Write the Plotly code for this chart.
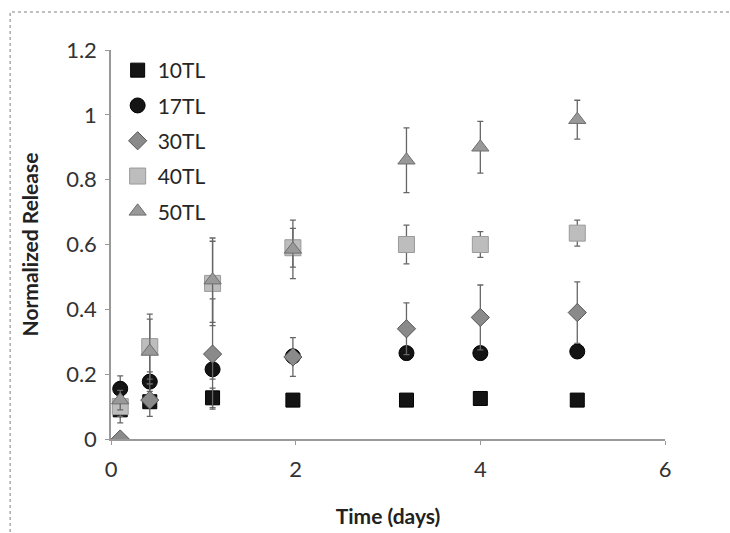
import plotly.graph_objects as go

time_days = [0.1, 0.42, 1.1, 1.97, 3.2, 4.0, 5.05]

tl10 = [0.09, 0.115, 0.127, 0.12, 0.12, 0.125, 0.12]
tl10_err = [0.04, 0.02, 0.03, 0.01, 0.01, 0.01, 0.01]
tl17 = [0.155, 0.177, 0.215, 0.255, 0.265, 0.265, 0.27]
tl17_err = [0.04, 0.03, 0.03, 0.02, 0.02, 0.02, 0.02]
tl30 = [0.0, 0.12, 0.262, 0.253, 0.34, 0.375, 0.39]
tl30_err = [0.01, 0.05, 0.17, 0.06, 0.08, 0.1, 0.095]
tl40 = [0.1, 0.285, 0.48, 0.59, 0.6, 0.6, 0.635]
tl40_err = [0.03, 0.1, 0.13, 0.06, 0.06, 0.04, 0.04]
tl50 = [0.12, 0.27, 0.49, 0.585, 0.86, 0.9, 0.985]
tl50_err = [0.03, 0.1, 0.13, 0.09, 0.1, 0.08, 0.06]

series = [
    ("10TL", tl10, tl10_err, "square", "#141414", "#000000", 14),
    ("17TL", tl17, tl17_err, "circle", "#141414", "#000000", 15),
    ("30TL", tl30, tl30_err, "diamond", "#8a8a8a", "#555555", 14),
    ("40TL", tl40, tl40_err, "square", "#bdbdbd", "#9a9a9a", 16),
    ("50TL", tl50, tl50_err, "triangle-up", "#999999", "#6e6e6e", 15),
]

fig = go.Figure()
for name, ys, errs, sym, fill, edge, size in series:
    fig.add_trace(go.Scatter(
        x=time_days, y=ys, mode="markers", name=name, legendgroup=name,
        marker=dict(symbol=sym, color=fill, size=size, line=dict(color=edge, width=1)),
        error_y=dict(type="data", array=errs, visible=True, color="#666666",
                     thickness=1.3, width=3),
    ))

fnt = "Lato, 'Open Sans', sans-serif"
fig.update_layout(
    width=730, height=533,
    margin=dict(l=111, r=65, t=50, b=94),
    paper_bgcolor="white", plot_bgcolor="white",
    font=dict(family=fnt, color="#333333", size=20),
    showlegend=True,
    legend=dict(x=0.012, y=1.0, xanchor="left", yanchor="top",
                font=dict(size=21, color="#262626"), tracegroupgap=5,
                bgcolor="rgba(0,0,0,0)", itemwidth=30),
    xaxis=dict(range=[0, 6], tickvals=[0, 2, 4, 6], showgrid=False, zeroline=False,
               showline=True, linecolor="#999999", linewidth=1.5,
               ticks="outside", ticklen=4, tickcolor="#999999",
               ticklabelstandoff=6, automargin=False,
               tickfont=dict(size=22, color="#333333"),
               title=dict(text="<b>Time (days)</b>", font=dict(size=21, color="#222222"), standoff=28)),
    yaxis=dict(range=[0, 1.2], tickvals=[0, 0.2, 0.4, 0.6, 0.8, 1.0, 1.2],
               ticktext=["0", "0.2", "0.4", "0.6", "0.8", "1", "1.2"],
               showgrid=False, zeroline=False,
               showline=True, linecolor="#999999", linewidth=1.5,
               ticks="outside", ticklen=4, tickcolor="#999999",
               ticklabelstandoff=4, automargin=False,
               tickfont=dict(size=22, color="#333333"),
               title=dict(text="<b>Normalized Release</b>", font=dict(size=21, color="#222222"), standoff=22)),
    shapes=[dict(type="rect", xref="paper", yref="paper",
                 x0=-0.182, x1=1.3, y0=-0.4, y1=1.098,
                 line=dict(color="#aaaaaa", width=1.5, dash="dot"))],
)

fig.write_html("out.html")
